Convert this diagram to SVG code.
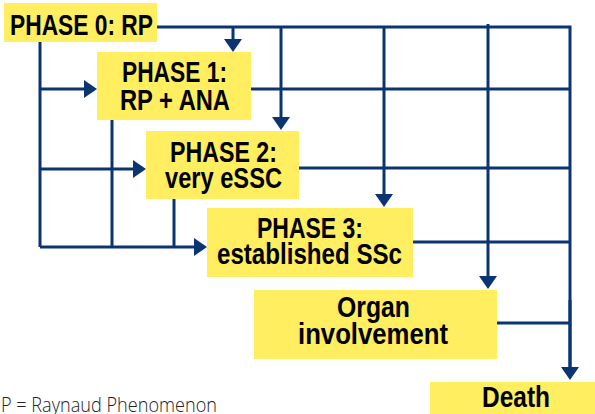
<svg xmlns="http://www.w3.org/2000/svg" width="595" height="414" viewBox="0 0 595 414">
<style>
.box{fill:#FFEE60}
.t{font-family:"Liberation Sans",Arial,sans-serif;font-weight:bold;font-size:29px;fill:#000}
.ln{fill:none;stroke:#0B3572;stroke-width:3}
.arr{fill:none;stroke:#0B3572;stroke-width:3;marker-end:url(#ah)}
.note{font-family:"Open Sans","Liberation Sans",sans-serif;font-weight:300;font-size:21px;fill:#222}
</style>
<defs>
<marker id="ah" markerUnits="userSpaceOnUse" markerWidth="13" markerHeight="18" refX="2" refY="9" orient="auto" viewBox="0 0 13 18">
<path d="M0,0 L13,9 L0,18 z" fill="#0B3572"/>
</marker>
</defs>
<rect x="0" y="0" width="595" height="414" fill="#fff"/>
<g id="connectors">
<path class="ln" d="M157,27 H570 V369"/>
<path class="ln" d="M40,42 V247"/>
<path class="ln" d="M112,120 V247"/>
<path class="ln" d="M174,199 V247"/>
<path class="ln" d="M251,89 H570"/>
<path class="ln" d="M299,168 H570"/>
<path class="ln" d="M413,242 H570"/>
<path class="ln" d="M497,323 H570"/>
<path class="arr" d="M233,27 V41"/>
<path class="arr" d="M281,27 V119"/>
<path class="arr" d="M384,26 V196"/>
<path class="arr" d="M488,24 V278"/>
<path class="arr" d="M570,300 V369"/>
<path class="arr" d="M40,89 H86"/>
<path class="arr" d="M40,169 H135"/>
<path class="arr" d="M40,247 H196"/>
</g>
<g id="phase0">
<rect class="box" x="4" y="3" width="153" height="39"/>
<text class="t" x="10" y="35" textLength="143" lengthAdjust="spacingAndGlyphs">PHASE 0: RP</text>
</g>
<g id="phase1">
<rect class="box" x="97" y="52" width="154" height="68"/>
<text class="t" x="122" y="82" textLength="105" lengthAdjust="spacingAndGlyphs">PHASE 1:</text>
<text class="t" x="120" y="110" textLength="110" lengthAdjust="spacingAndGlyphs">RP + ANA</text>
</g>
<g id="phase2">
<rect class="box" x="146" y="131" width="153" height="68"/>
<text class="t" x="170" y="162" textLength="107" lengthAdjust="spacingAndGlyphs">PHASE 2:</text>
<text class="t" x="165" y="188" textLength="117" lengthAdjust="spacingAndGlyphs">very eSSC</text>
</g>
<g id="phase3">
<rect class="box" x="207" y="208" width="206" height="69"/>
<text class="t" x="257" y="238" textLength="106" lengthAdjust="spacingAndGlyphs">PHASE 3:</text>
<text class="t" x="217" y="264" textLength="185" lengthAdjust="spacingAndGlyphs">established SSc</text>
</g>
<g id="organ">
<rect class="box" x="254" y="290" width="243" height="69"/>
<text class="t" x="337" y="317" textLength="73" lengthAdjust="spacingAndGlyphs">Organ</text>
<text class="t" x="298" y="344" textLength="150" lengthAdjust="spacingAndGlyphs">involvement</text>
</g>
<g id="death">
<rect class="box" x="430" y="382" width="165" height="32"/>
<text class="t" x="482" y="407" textLength="68" lengthAdjust="spacingAndGlyphs">Death</text>
</g>
<text class="note" x="1" y="412" textLength="216" lengthAdjust="spacingAndGlyphs">P = Raynaud Phenomenon</text>
</svg>
